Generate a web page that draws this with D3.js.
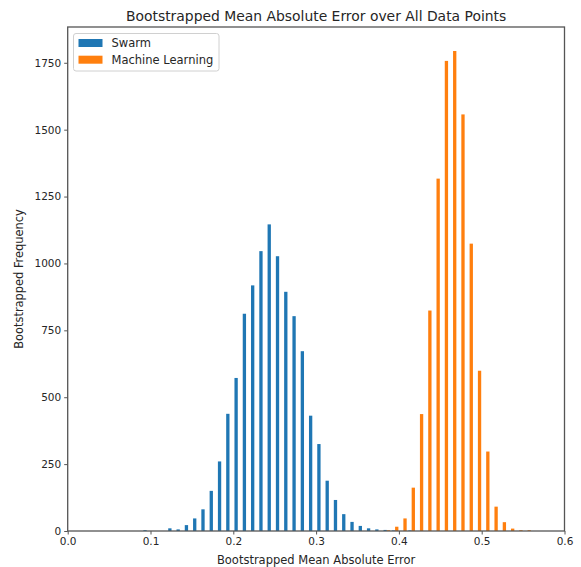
<!DOCTYPE html>
<html>
<head>
<meta charset="utf-8">
<script src="https://cdn.jsdelivr.net/npm/d3@7"></script>
<style>
  html, body { margin: 0; padding: 0; background: #fff; }
  svg { display: block; font-family: "DejaVu Sans", sans-serif; }
</style>
</head>
<body>
<svg id="chart" width="581" height="567"></svg>
<script>
// Histogram bins shared by both series
const binStart = 0.0904;
const binWidth = 0.01;

// Bootstrapped MAE counts per bin
const swarmCounts = [
  3, 0, 0, 10, 6, 22, 47, 81, 150, 260,
  438, 572, 812, 918, 1046, 1146, 1027, 894, 803, 672,
  431, 325, 188, 116, 63, 34, 19, 10, 6, 4,
  2, 0, 2, 0, 0, 0, 0, 0, 0, 0,
  0, 0, 0, 0, 0, 0, 0
];
const mlCounts = [
  0, 0, 0, 0, 0, 0, 0, 0, 0, 0,
  0, 0, 0, 0, 0, 0, 0, 0, 0, 0,
  0, 0, 0, 0, 0, 0, 0, 0, 0, 3,
  16, 47, 162, 437, 824, 1317, 1757, 1794, 1557, 1074,
  599, 297, 91, 33, 9, 3, 3
];

const seriesNames = ["Swarm", "Machine Learning"];
const seriesColors = ["#1f77b4", "#ff7f0e"];

const xTicks = [0.0, 0.1, 0.2, 0.3, 0.4, 0.5, 0.6];
const yTicks = [0, 250, 500, 750, 1000, 1250, 1500, 1750];

const titleText = "Bootstrapped Mean Absolute Error over All Data Points";
const xLabel = "Bootstrapped Mean Absolute Error";
const yLabel = "Bootstrapped Frequency";

const plot = { left: 67.7, right: 564.5, top: 27, bottom: 531 };

const svg = d3.select("#chart");

const x = d3.scaleLinear().domain([0, 0.6]).range([plot.left, plot.right]);
const yMax = d3.max([d3.max(swarmCounts), d3.max(mlCounts)]) * 1.05;
const y = d3.scaleLinear().domain([0, yMax]).range([plot.bottom, plot.top]);

// side-by-side bars: two series share 80% of each bin
const series = [swarmCounts, mlCounts];
series.forEach((counts, s) => {
  const bars = counts.map((c, i) => ({
    left: binStart + i * binWidth + binWidth * (0.1 + 0.4 * s),
    width: binWidth * 0.4,
    count: c
  })).filter(d => d.count > 0);
  svg.append("g")
    .selectAll("rect")
    .data(bars)
    .join("rect")
    .attr("x", d => x(d.left))
    .attr("width", d => x(d.left + d.width) - x(d.left))
    .attr("y", d => y(d.count))
    .attr("height", d => y(0) - y(d.count))
    .attr("fill", seriesColors[s]);
});

// axes
const axisColor = "#555";
const textColor = "#262626";

const xAxis = svg.append("g")
  .attr("transform", `translate(0,${plot.bottom})`)
  .call(d3.axisBottom(x).tickValues(xTicks).tickFormat(d3.format(".1f")).tickSizeInner(3.5).tickSizeOuter(0).tickPadding(3));
const yAxis = svg.append("g")
  .attr("transform", `translate(${plot.left},0)`)
  .call(d3.axisLeft(y).tickValues(yTicks).tickFormat(d3.format("d")).tickSizeInner(3.5).tickSizeOuter(0).tickPadding(3));

[xAxis, yAxis].forEach(g => {
  g.select(".domain").remove();
  g.selectAll(".tick line").attr("stroke", axisColor).attr("stroke-width", 1);
  g.selectAll(".tick text").attr("fill", textColor).attr("font-size", 10.5)
    .attr("font-family", "DejaVu Sans, sans-serif");
});

// frame
svg.append("rect")
  .attr("x", plot.left).attr("y", plot.top)
  .attr("width", plot.right - plot.left).attr("height", plot.bottom - plot.top)
  .attr("fill", "none").attr("stroke", axisColor).attr("stroke-width", 1.3);

// title and axis labels
svg.append("text")
  .attr("x", (plot.left + plot.right) / 2).attr("y", 20.5)
  .attr("text-anchor", "middle").attr("font-size", 13.9).attr("fill", textColor)
  .text(titleText);

svg.append("text")
  .attr("x", (plot.left + plot.right) / 2).attr("y", 564)
  .attr("text-anchor", "middle").attr("font-size", 11.5).attr("fill", textColor)
  .text(xLabel);

svg.append("text")
  .attr("transform", `translate(23,${(plot.top + plot.bottom) / 2}) rotate(-90)`)
  .attr("text-anchor", "middle").attr("font-size", 11.4).attr("fill", textColor)
  .text(yLabel);

// legend
const legend = svg.append("g").attr("transform", "translate(73.5,33.5)");
legend.append("rect")
  .attr("width", 145.5).attr("height", 37.5).attr("rx", 2.5)
  .attr("fill", "#fff").attr("fill-opacity", 0.8)
  .attr("stroke", "#d0d0d0").attr("stroke-width", 1);
seriesNames.forEach((name, i) => {
  const row = legend.append("g").attr("transform", `translate(5,${5.5 + i * 16.7})`);
  row.append("rect").attr("width", 24).attr("height", 8).attr("fill", seriesColors[i]);
  row.append("text").attr("x", 33).attr("y", 8.3).attr("font-size", 11.5)
    .attr("fill", textColor).text(name);
});
</script>
</body>
</html>
